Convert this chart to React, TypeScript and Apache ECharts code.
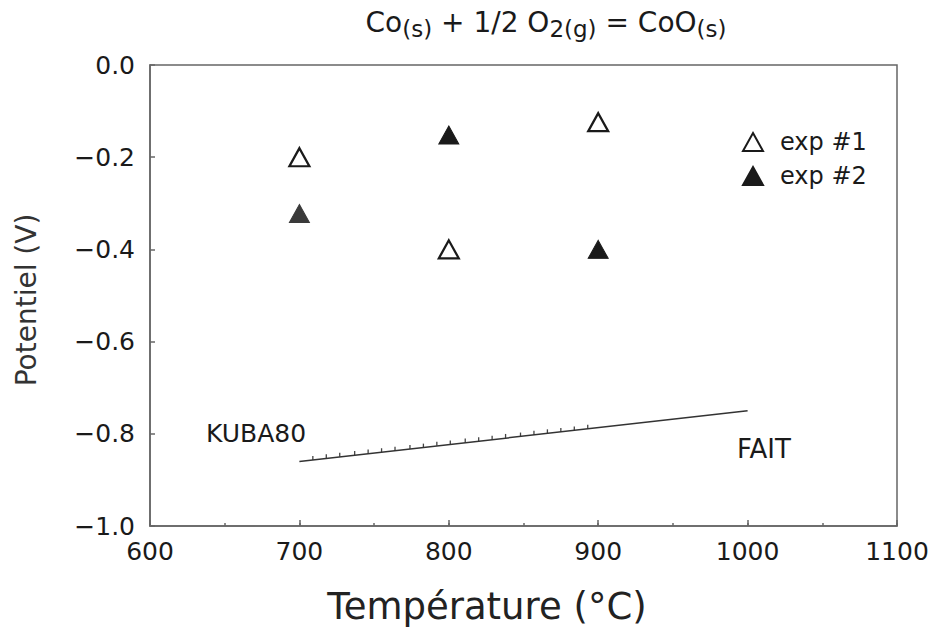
import React, { useEffect, useRef } from "react";
import * as echarts from "echarts";

// Experimental points: [temperature °C, potential V]
const exp1Points: [number, number][] = [
  [700, -0.2],
  [800, -0.4],
  [900, -0.124],
];
const exp2Points: [number, number][] = [
  [700, -0.322],
  [800, -0.152],
  [900, -0.4],
];
// KUBA80 reference line (end points)
const kubaLine: [number, number][] = [
  [700, -0.86],
  [1000, -0.75],
];
// small tick marks seen along the KUBA80 line
const kubaTicks: [number, number][] = [
  [709, -0.857], [718, -0.853], [727, -0.85], [737, -0.846], [746, -0.843],
  [755, -0.84], [764, -0.837], [774, -0.833], [783, -0.83], [792, -0.826],
  [801, -0.823], [811, -0.819], [820, -0.816], [829, -0.813], [838, -0.809],
  [848, -0.806], [857, -0.802], [866, -0.799], [875, -0.796], [884, -0.793],
  [893, -0.789],
];
const seriesNames = ["exp #1", "exp #2"];
const xTicks = { min: 600, max: 1100, interval: 100, minorInterval: 50 };
const yTicks = { min: -1.0, max: 0.0, interval: 0.2 };

const FONT = "DejaVu Sans";
const INK = "#1a1a1a";
const AXIS = "#666";

export default function App() {
  const ref = useRef<HTMLDivElement>(null);
  useEffect(() => {
    document.body.style.margin = "0";
    if (!ref.current) return;
    const chart = echarts.init(ref.current, undefined, { renderer: "svg" });
    const gridRect = { left: 150, right: 38, top: 65, bottom: 104 };
    const baseX = {
      type: "value",
      position: "bottom",
      min: xTicks.min,
      max: xTicks.max,
      splitLine: { show: false },
    };
    chart.setOption({
      animation: false,
      backgroundColor: "#fff",
      textStyle: { fontFamily: FONT },
      grid: [
        { ...gridRect, show: true, borderColor: AXIS, borderWidth: 1.5 },
        { ...gridRect, show: false },
      ],
      legend: {
        data: seriesNames,
        orient: "vertical",
        left: 737,
        top: 123,
        itemWidth: 20,
        itemHeight: 18,
        itemGap: 6,
        textStyle: {
          fontFamily: FONT,
          fontSize: 24,
          color: INK,
          lineHeight: 28,
          padding: [0, 0, 0, 12],
        },
      },
      xAxis: [
        {
          ...baseX,
          gridIndex: 0,
          interval: xTicks.interval,
          axisLine: { show: true, onZero: false, lineStyle: { color: AXIS, width: 1.5 } },
          axisTick: { show: true, inside: true, length: 6, lineStyle: { color: AXIS, width: 1.5 } },
          axisLabel: {
            fontFamily: FONT,
            fontSize: 25,
            color: INK,
            margin: 13,
            formatter: (v: number) => String(v),
          },
        },
        {
          ...baseX,
          gridIndex: 1,
          interval: xTicks.minorInterval,
          axisLine: { show: false, onZero: false },
          axisTick: { show: true, inside: true, length: 3, lineStyle: { color: AXIS, width: 1.5 } },
          axisLabel: { show: false },
        },
      ],
      yAxis: [
        {
          type: "value",
          gridIndex: 0,
          min: yTicks.min,
          max: yTicks.max,
          interval: yTicks.interval,
          axisLine: { show: true, onZero: false, lineStyle: { color: AXIS, width: 1.5 } },
          axisTick: { show: true, inside: true, length: 5, lineStyle: { color: AXIS, width: 1.5 } },
          splitLine: { show: false },
          axisLabel: {
            fontFamily: FONT,
            fontSize: 25,
            color: INK,
            margin: 15,
            formatter: (v: number) =>
              Math.abs(v) < 1e-9 ? "0.0" : (v < 0 ? "\u2212" : "") + Math.abs(v).toFixed(1),
          },
        },
        {
          type: "value",
          gridIndex: 1,
          min: yTicks.min,
          max: yTicks.max,
          show: false,
        },
      ],
      series: [
        {
          name: seriesNames[0],
          type: "scatter",
          data: exp1Points,
          symbol: "triangle",
          symbolSize: [20, 18],
          itemStyle: { color: "#fff", borderColor: INK, borderWidth: 2.2, opacity: 1 },
          z: 5,
        },
        {
          name: seriesNames[1],
          type: "scatter",
          data: exp2Points.map((p, i) =>
            i === 0 ? { value: p, itemStyle: { color: "#3a3a3a", borderColor: "#3a3a3a" } } : p
          ),
          symbol: "triangle",
          symbolSize: [20, 18],
          itemStyle: { color: INK, borderColor: INK, borderWidth: 1, opacity: 1 },
          z: 5,
        },
        {
          name: "KUBA80",
          type: "line",
          data: kubaLine,
          showSymbol: false,
          symbol: "none",
          lineStyle: { color: "#333", width: 1.5 },
        },
        {
          name: "KUBA80 ticks",
          type: "scatter",
          data: kubaTicks,
          symbol: "rect",
          symbolSize: [1.3, 4],
          symbolOffset: [0, -2],
          itemStyle: { color: "#444", opacity: 1 },
        },
      ],
      graphic: [
        {
          type: "text",
          x: 546,
          y: 8,
          style: {
            text: "{n|Co}{s|(s)}{n| + 1/2 O}{s|2(g)}{n| = CoO}{s|(s)}",
            align: "center",
            verticalAlign: "top",
            fill: INK,
            fontFamily: FONT,
            fontSize: 28,
            rich: {
              n: {
                fontFamily: FONT,
                fontSize: 28,
                lineHeight: 32,
                padding: [0, 0, 10, 0],
                verticalAlign: "top",
                fill: INK,
              },
              s: {
                fontFamily: FONT,
                fontSize: 23,
                lineHeight: 24,
                verticalAlign: "bottom",
                fill: INK,
              },
            },
          },
        },
        {
          type: "text",
          x: 487,
          y: 606,
          style: {
            text: "Température (°C)",
            align: "center",
            verticalAlign: "middle",
            fontFamily: FONT,
            fontSize: 37,
            fill: "#222",
          },
        },
        {
          type: "text",
          x: 26,
          y: 300,
          rotation: Math.PI / 2,
          style: {
            text: "Potentiel (V)",
            align: "center",
            verticalAlign: "middle",
            fontFamily: FONT,
            fontSize: 28,
            fill: "#333",
          },
        },
        {
          type: "text",
          x: 206,
          y: 433,
          style: {
            text: "KUBA80",
            align: "left",
            verticalAlign: "middle",
            fontFamily: FONT,
            fontSize: 25,
            fill: INK,
          },
        },
        {
          type: "text",
          x: 737,
          y: 449,
          style: {
            text: "FAIT",
            align: "left",
            verticalAlign: "middle",
            fontFamily: FONT,
            fontSize: 26,
            fill: INK,
          },
        },
      ],
    });
    return () => chart.dispose();
  }, []);
  return <div ref={ref} style={{ width: 935, height: 630 }} />;
}
